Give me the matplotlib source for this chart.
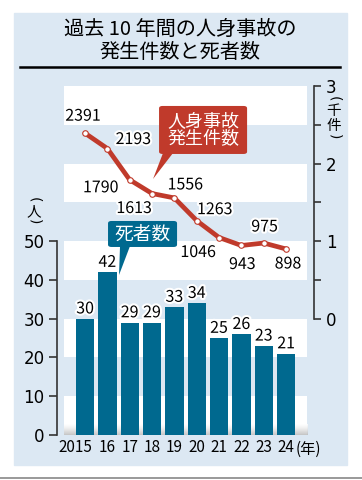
import matplotlib
matplotlib.use("Agg")
import matplotlib.pyplot as plt
import matplotlib.patheffects as pe
import matplotlib.transforms as mtrans
from matplotlib.patches import Rectangle, Polygon, FancyBboxPatch
import numpy as np

plt.rcParams['font.family'] = ['Noto Sans CJK JP', 'DejaVu Sans']

years = ["2015", "16", "17", "18", "19", "20", "21", "22", "23", "24"]
deaths = [30, 42, 29, 29, 33, 34, 25, 26, 23, 21]
accidents = [2391, 2193, 1790, 1613, 1556, 1263, 1046, 943, 975, 898]
# label offsets (pixels) for the accident line labels
acc_offsets = [(-2, 17), (26, 9), (-29, -8), (-18, -15), (11, 13),
               (18, 11), (-21, -15), (1, -19), (1, 16), (2, -15)]

BG = "#dce8f3"
BAR = "#00698f"
RED = "#c03a2b"
AXC = "#333333"

W, H = 362, 480
fig = plt.figure(figsize=(W / 100, H / 100), dpi=100)


def fx(px):
    return px / W


def fy(py):
    return 1 - py / H


# panel background
fig.patches.append(Rectangle((fx(14), fy(465)), fx(347) - fx(14), fy(13) - fy(465),
                             transform=fig.transFigure, color=BG, zorder=-5))
# bottom grey rule
fig.add_artist(plt.Line2D([0, 1], [fy(478), fy(478)], color="#888888", lw=1.2))
# title
fig.text(fx(180), fy(29), "過去 10 年間の人身事故の", ha="center", va="center", fontsize=14.5)
fig.text(fx(180), fy(52), "発生件数と死者数", ha="center", va="center", fontsize=14.5)
fig.add_artist(plt.Line2D([fx(20), fx(340)], [fy(67), fy(67)], color="black", lw=1.8))

ax = fig.add_axes([fx(57), fy(435), fx(314) - fx(57), fy(84) - fy(435)])
ax.set_facecolor("none")

x = np.arange(len(years))

# white bands
for lo in range(0, 90, 20):
    ax.add_patch(Rectangle((-0.94, lo), 10.88, 10, color="white", zorder=0, lw=0))
# ground shadow
grad = np.linspace(0, 1, 50).reshape(-1, 1)
ax.imshow(grad, extent=(-0.94, 9.94, 0, 2.8), aspect="auto", cmap="Greys",
          vmin=0, vmax=2.5, alpha=0.8, origin="upper", zorder=0.5)
ax.set_xlim(-1.254, 10.25)
ax.set_ylim(0, 90.5)

halo = [pe.withStroke(linewidth=3, foreground="white")]

bars = ax.bar(x, deaths, width=0.82, color=BAR, zorder=2)
for xi, d in zip(x, deaths):
    ax.annotate(str(d), (xi, d), xytext=(0, 7), textcoords="offset points",
                ha="center", va="center", fontsize=11.5, zorder=5, path_effects=halo)

# accidents line on left-units scale: v = 30 + 20 * thousands
ax2 = ax.twinx()
ax2.set_ylim(-1.5, (90.5 - 30) / 20)
ax2.set_xlim(-1.254, 10.25)
acc_k = np.array(accidents) / 1000
ax2.plot(x, acc_k, color=RED, lw=3.4, zorder=3, solid_capstyle="round")
ax2.plot(x, acc_k, "o", ms=4, mfc="white", mec=RED, mew=0.8, zorder=4)
for xi, a, (dx, dy) in zip(x, acc_k, acc_offsets):
    ax2.annotate(f"{int(round(a * 1000))}", (xi, a), xytext=(dx * 0.72, dy * 0.72),
                 textcoords="offset points", ha="center", va="center",
                 fontsize=11.5, zorder=6, path_effects=halo)

# left axis
for s in ["top", "right", "bottom"]:
    ax.spines[s].set_visible(False)
ax.spines["left"].set_bounds(0, 50)
ax.spines["left"].set_color(AXC)
ax.spines["left"].set_linewidth(1.2)
ax.set_yticks([0, 10, 20, 30, 40, 50])
ax.tick_params(axis="y", length=6, width=1.2, color=AXC, labelsize=12, pad=3,
               labelfontfamily="DejaVu Sans")
ax.set_xticks(x)
ax.set_xticklabels(years)
ax.tick_params(axis="x", length=0, labelsize=11, pad=3)
first = ax.get_xticklabels()[0]
first.set_transform(first.get_transform() + mtrans.ScaledTranslation(-7 / 72, 0, fig.dpi_scale_trans))

# right axis
for s in ["top", "left", "bottom"]:
    ax2.spines[s].set_visible(False)
ax2.spines["right"].set_bounds(0, 3)
ax2.spines["right"].set_color(AXC)
ax2.spines["right"].set_linewidth(1.2)
ax2.set_yticks([0, 1, 2, 3])
ax2.set_yticks([0.5, 1.5, 2.5], minor=True)
ax2.tick_params(axis="y", which="both", length=5, width=1.2, color=AXC, labelsize=12, pad=3.5,
                labelfontfamily="DejaVu Sans")


# axis unit labels (vertical): rotated parentheses + glyphs
def vtext(px, items):
    for ch, py in items:
        if ch in "()":
            fig.text(fx(px), fy(py), ch, ha="center", va="center", fontsize=10,
                     rotation=-90, family="DejaVu Sans", rotation_mode="anchor")
        else:
            fig.text(fx(px), fy(py), ch, ha="center", va="center", fontsize=10.5)


vtext(34, [("(", 200), ("人", 212), (")", 222)])
vtext(334, [("(", 99), ("千", 111), ("件", 126), (")", 137)])
fig.text(fx(308), fy(449), "(年)", ha="center", va="center", fontsize=11)


# callouts (pixel -> axis data)
def dxy(px, py):
    return ((px - 85) / 22.33, (435 - py) / 3.878)


def callout(box, tail, color, text, fs):
    (l, t, r, b) = box
    x0, y0 = dxy(l, b)
    x1, y1 = dxy(r, t)
    ax.add_patch(FancyBboxPatch((x0, y0), x1 - x0, y1 - y0,
                                boxstyle="round,pad=0,rounding_size=0.15",
                                color=color, zorder=7, lw=0, mutation_aspect=4))
    ax.add_patch(Polygon([dxy(*p) for p in tail], closed=True, color=color, zorder=7, lw=0))
    ax.text((x0 + x1) / 2, (y0 + y1) / 2, text, ha="center", va="center",
            color="white", fontsize=fs, zorder=8, linespacing=1.05)


callout((159, 106, 247, 154), [(163, 153), (173, 153), (153, 179)], RED, "人身事故\n発生件数", 13)
callout((108, 221, 177, 247), [(120, 246), (130, 246), (119, 275)], BAR, "死者数", 13.5)

fig.savefig("out.png", dpi=100)
